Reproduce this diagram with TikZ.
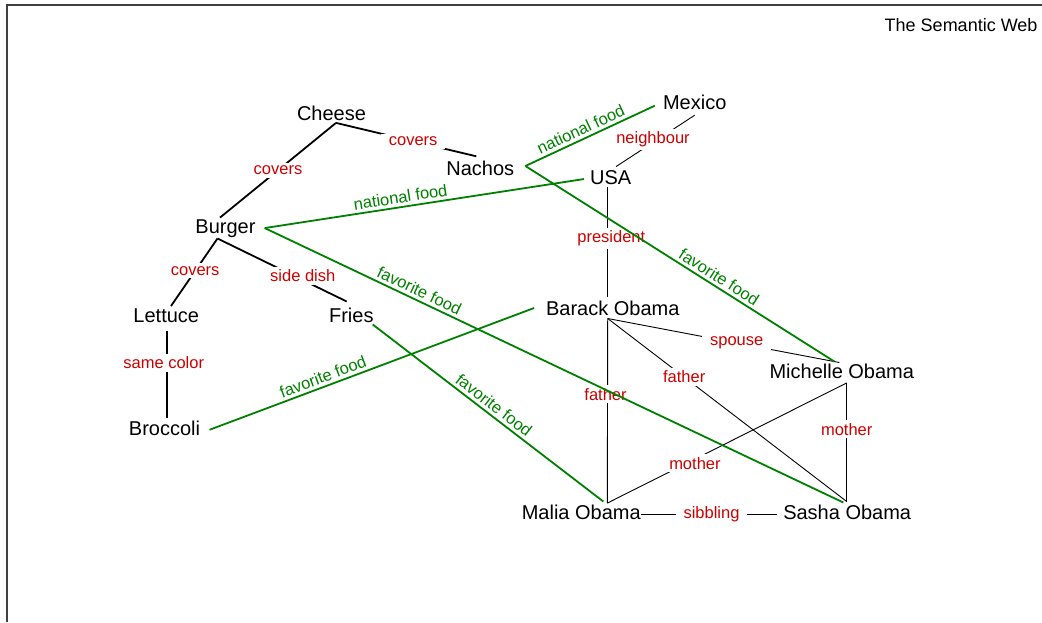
\documentclass[tikz,border=0pt]{standalone}
\usepackage{fontspec}
\setmainfont{Liberation Sans}
\definecolor{foodgreen}{RGB}{0,128,0}
\definecolor{relred}{RGB}{204,0,0}
\begin{document}
\begin{tikzpicture}[x=1pt,y=-1pt,
  entity/.style={font=\fontsize{20}{24}\selectfont, inner sep=0pt, text height=14.5pt, text depth=4pt, anchor=base},
  rel/.style={font=\fontsize{16.5}{20}\selectfont, text=relred, fill=white, inner xsep=8pt, inner ysep=3pt},
  foodlabel/.style={font=\fontsize{16.5}{20}\selectfont, text=foodgreen, sloped, above, inner sep=3pt},
  foodlink/.style={line width=1.8pt, black},
  kinlink/.style={line width=0.9pt, black},
  greenlink/.style={line width=1.8pt, foodgreen},
]
\useasboundingbox (0,0) rectangle (1042,622);
% frame
\draw[line width=1.5pt, black!75] (7,622) -- (7,5) -- (1042,5);
\node[font=\fontsize{18}{22}\selectfont, anchor=base east] (title) at (1041,31.7) {The Semantic Web};

% entities
\node[entity] (cheese)   at (331.5,120)   {Cheese};
\node[entity] (nachos)   at (480.3,175)   {Nachos};
\node[entity] (mexico)   at (694.7,109.3) {Mexico};
\node[entity] (usa)      at (610.7,184.3) {USA};
\node[entity] (burger)   at (225.5,233.3) {Burger};
\node[entity] (lettuce)  at (166.3,322.7) {Lettuce};
\node[entity] (fries)    at (351.3,322.7) {Fries};
\node[entity] (broccoli) at (164.5,435)   {Broccoli};
\node[entity] (barack)   at (612.8,315)   {Barack Obama};
\node[entity] (michelle) at (841.8,378.3) {Michelle Obama};
\node[entity] (malia)    at (581.3,519.3) {Malia Obama};
\node[entity] (sasha)    at (847.2,519.3) {Sasha Obama};

% food relations
\draw[foodlink] ([shift={(4.5,-1.3)}]cheese.south) -- node[rel,pos=0.5]{covers} ([shift={(-5.5,-1)}]burger.north);
\draw[foodlink] ([shift={(4.5,-1.3)}]cheese.south) -- node[rel,pos=0.55]{covers} ([shift={(-4,-4)}]nachos.north);
\draw[foodlink] ([shift={(-8,1)}]burger.south) -- node[rel,pos=0.48]{covers} ([shift={(4.7,-2)}]lettuce.north);
\draw[foodlink] ([shift={(-8,1)}]burger.south) -- node[rel,pos=0.66,yshift=4pt]{side dish} ([shift={(-4.6,-6.5)}]fries.north);
\draw[foodlink] ([shift={(0.4,4)}]lettuce.south) -- node[rel,pos=0.37,xshift=-3pt]{same color} ([shift={(2.2,-2.5)}]broccoli.north);

% people and places
\draw[kinlink] ([shift={(0,1.7)}]mexico.south) -- node[rel,pos=0.53,yshift=3pt]{neighbour} ([shift={(5.3,-3)}]usa.north);
\draw[kinlink] ([shift={(-3.4,-1.3)}]usa.south) -- node[rel,pos=0.47,xshift=4pt]{president} ([shift={(-5.5,-3.5)}]barack.north);
\draw[kinlink] ([shift={(-5.1,-0.7)}]barack.south) -- node[rel,pos=0.557]{spouse} ([shift={(-2.5,-1.1)}]michelle.north);
\draw[kinlink] ([shift={(-5.1,-0.7)}]barack.south) -- node[rel,pos=0.32]{father} ([shift={(-0.5,-3.1)}]sasha.north);
\draw[kinlink] ([shift={(-5.1,-0.7)}]barack.south) -- node[rel,pos=0.41,xshift=-2pt]{father} ([shift={(26,-1.5)}]malia.north);
\draw[kinlink] ([shift={(4.9,0.4)}]michelle.south) -- node[rel,pos=0.634,yshift=-4pt]{mother} ([shift={(26,-1.5)}]malia.north);
\draw[kinlink] ([shift={(4.9,0.4)}]michelle.south) -- node[rel,pos=0.39]{mother} ([shift={(-0.5,-3.1)}]sasha.north);
\draw[kinlink] (malia.east) -- node[rel,pos=0.518]{sibbling} ([xshift=-6pt]sasha.west);

% national and favorite food
\draw[greenlink] ([xshift=9pt]burger.east) -- node[foodlabel,pos=0.43]{national food} ([xshift=-6pt]usa.west);
\draw[greenlink] ([shift={(11,-3.75)}]nachos.east) -- node[foodlabel,pos=0.46]{national food} ([shift={(-8,1.65)}]mexico.west);
\draw[greenlink] ([shift={(11,-3.75)}]nachos.east) -- node[foodlabel,pos=0.61]{favorite food} ([shift={(-7.5,-2.1)}]michelle.north);
\draw[greenlink] ([xshift=9pt]burger.east) -- node[foodlabel,pos=0.26]{favorite food} ([shift={(-3.9,-2.1)}]sasha.north);
\draw[greenlink] ([shift={(-1,-2.4)}]fries.south east) -- node[foodlabel,pos=0.5]{favorite food} ([shift={(22,-3.1)}]malia.north);
\draw[greenlink] ([xshift=9.3pt]broccoli.east) -- node[foodlabel,pos=0.36]{favorite food} ([shift={(-11.8,-1.75)}]barack.west);
\end{tikzpicture}
\end{document}
